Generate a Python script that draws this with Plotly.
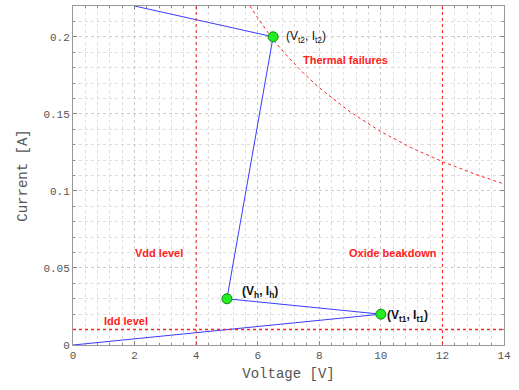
import plotly.graph_objects as go

# Snapback I-V characteristic (voltage V, current A)
iv_v = [0, 10, 5, 6.5, 2]
iv_i = [0, 0.02, 0.03, 0.2, 0.22]

# Key points
pt_v = [6.5, 5, 10]
pt_i = [0.2, 0.03, 0.02]
pt_labels = ["(V<sub>t2</sub>, I<sub>t2</sub>)", "<b>(V<sub>h</sub>, I<sub>h</sub>)</b>", "<b>(V<sub>t1</sub>, I<sub>t1</sub>)</b>"]
pt_xshift = [11, 13, 4]
pt_yshift = [0, 7, -2]

# Thermal failure boundary
th_v = [5.75, 6, 6.5, 7, 7.5, 8, 9, 10, 11, 12, 13, 14]
th_i = [0.220, 0.2123, 0.198, 0.1866, 0.1762, 0.1669, 0.1513, 0.1385, 0.1279, 0.119, 0.1113, 0.1045]

vdd_level = 4
oxide_level = 12
idd_level = 0.01

x_ticks = [0, 2, 4, 6, 8, 10, 12, 14]
y_ticks = [0, 0.05, 0.1, 0.15, 0.2]
y_tick_text = ["0", "0.05", "0.1", "0.15", "0.2"]

red = "#ff2020"
fig = go.Figure()

fig.add_trace(go.Scatter(x=th_v, y=th_i, mode="lines",
                         line=dict(color=red, width=1, dash="dot"), hoverinfo="skip"))
fig.add_trace(go.Scatter(x=iv_v, y=iv_i, mode="lines",
                         line=dict(color="#3a3aff", width=1), hoverinfo="skip"))
fig.add_trace(go.Scatter(x=pt_v, y=pt_i, mode="markers",
                         marker=dict(color="#22ee22", size=10, line=dict(color="#118811", width=1))))

fig.add_shape(type="line", xref="x", yref="paper", x0=vdd_level, x1=vdd_level, y0=0, y1=1,
              line=dict(color=red, width=1, dash="dot"))
fig.add_shape(type="line", xref="x", yref="paper", x0=oxide_level, x1=oxide_level, y0=0, y1=1,
              line=dict(color=red, width=1, dash="dot"))
fig.add_shape(type="line", xref="paper", yref="y", x0=0, x1=1, y0=idd_level, y1=idd_level,
              line=dict(color=red, width=1.5, dash="dot"))

txt_font = dict(family="Liberation Sans, Arial", size=11, color=red)
for x, y, t in [(8.86, 0.185, "<b>Thermal failures</b>"), (2.8, 0.0597, "<b>Vdd level</b>"),
                (1.72, 0.0156, "<b>Idd level</b>"), (10.4, 0.0597, "<b>Oxide beakdown</b>")]:
    fig.add_annotation(x=x, y=y, text=t, showarrow=False, font=txt_font)

for x, y, t, dx, dy in zip(pt_v, pt_i, pt_labels, pt_xshift, pt_yshift):
    fig.add_annotation(x=x, y=y, text=t, showarrow=False, xanchor="left", xshift=dx, yshift=dy,
                       font=dict(family="Liberation Sans, Arial", size=12, color="#111"))

axis_common = dict(
    showgrid=True, gridcolor="#cccccc", griddash="dot", gridwidth=1,
    showline=True, linecolor="#999999", linewidth=1, mirror="ticks",
    ticks="inside", ticklen=4, tickcolor="#888888",
    zeroline=False, automargin=False,
    tickfont=dict(family="Liberation Mono, Courier New", size=11, color="#555555"),
)

fig.update_xaxes(**axis_common, range=[0, 14], tickvals=x_ticks,
                 minor=dict(dtick=0.4, showgrid=True, gridcolor="#dddddd", griddash="dot",
                            ticks="inside", ticklen=2, tickcolor="#888888"),
                 title=dict(text="Voltage [V]", font=dict(family="Liberation Mono, Courier New", size=14, color="#555555"),
                            standoff=6))
fig.update_yaxes(**axis_common, range=[0, 0.22], tickvals=y_ticks, ticktext=y_tick_text,
                 minor=dict(dtick=0.01, showgrid=True, gridcolor="#dddddd", griddash="dot",
                            ticks="inside", ticklen=2, tickcolor="#888888"),
                 title=dict(text="Current [A]", font=dict(family="Liberation Mono, Courier New", size=14, color="#555555"),
                            standoff=12))

fig.update_layout(width=519, height=390, margin=dict(l=73, r=15, t=6, b=45, autoexpand=False),
                  plot_bgcolor="white", paper_bgcolor="white", showlegend=False)

fig.write_html("out.html", config={"displayModeBar": False},
               post_script="document.body.style.margin='0';document.body.style.overflow='hidden';")
